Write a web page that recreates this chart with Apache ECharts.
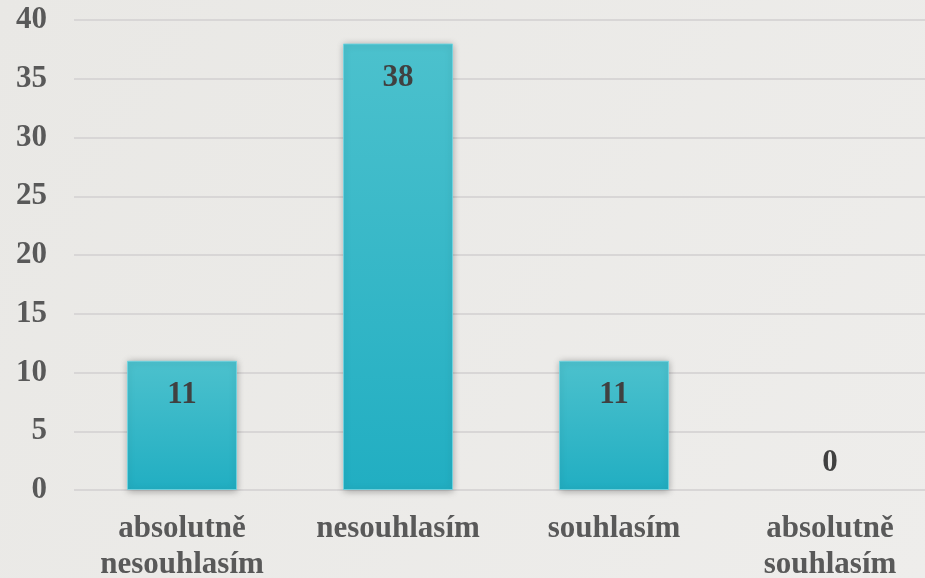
<!DOCTYPE html>
<html><head><meta charset="utf-8">
<script src="https://cdn.jsdelivr.net/npm/echarts@6/dist/echarts.min.js"></script>
<style>html,body{margin:0;padding:0;background:#ebe9e6;}#c{width:925px;height:578px;}</style>
</head><body><div id="c"></div>
<script>
const categories = ['absolutně\nnesouhlasím', 'nesouhlasím', 'souhlasím', 'absolutně\nsouhlasím'];
const values = [11, 38, 11, 0];
const yTicks = [0, 5, 10, 15, 20, 25, 30, 35, 40];

const font = {fontFamily: 'Liberation Serif', fontWeight: 'bold', fontSize: 31};
const chart = echarts.init(document.getElementById('c'));
chart.setOption({
  backgroundColor: new echarts.graphic.LinearGradient(0, 0, 1, 1, [
    {offset: 0, color: '#e9e8e5'}, {offset: 1, color: '#eeedeb'}
  ]),
  animation: false,
  grid: {left: 74, top: 20, right: -13, bottom: 88, containLabel: false, outerBoundsMode: 'none'},
  xAxis: {
    type: 'category', data: categories,
    axisLine: {show: false}, axisTick: {show: false},
    axisLabel: Object.assign({margin: 21, color: '#595959', lineHeight: 36, interval: 0}, font)
  },
  yAxis: {
    type: 'value', min: 0, max: 40, interval: 5,
    axisLine: {show: false}, axisTick: {show: false},
    axisLabel: Object.assign({margin: 27, color: '#595959',
      formatter: v => yTicks.includes(v) ? String(v) : ''}, font),
    splitLine: {lineStyle: {color: '#d8d6d6', width: 2}}
  },
  series: [{
    type: 'bar',
    data: values.map(v => v === 0
      ? {value: v,
         itemStyle: {color: 'rgba(0,0,0,0)', borderWidth: 0, shadowBlur: 0, shadowColor: 'rgba(0,0,0,0)'},
         label: {position: 'top', distance: 12}}
      : v),
    barWidth: 110,
    itemStyle: {
      color: new echarts.graphic.LinearGradient(0, 0, 0, 1, [
        {offset: 0, color: '#4cc1cd'}, {offset: 1, color: '#21aec2'}
      ]),
      borderColor: 'rgba(110,215,228,0.8)', borderWidth: 1,
      shadowColor: 'rgba(0,0,0,0.3)', shadowBlur: 7, shadowOffsetX: 0, shadowOffsetY: 1
    },
    label: Object.assign({
      show: true, position: 'insideTop', distance: 19, color: '#404040'
    }, font)
  }]
});
</script>
</body></html>
